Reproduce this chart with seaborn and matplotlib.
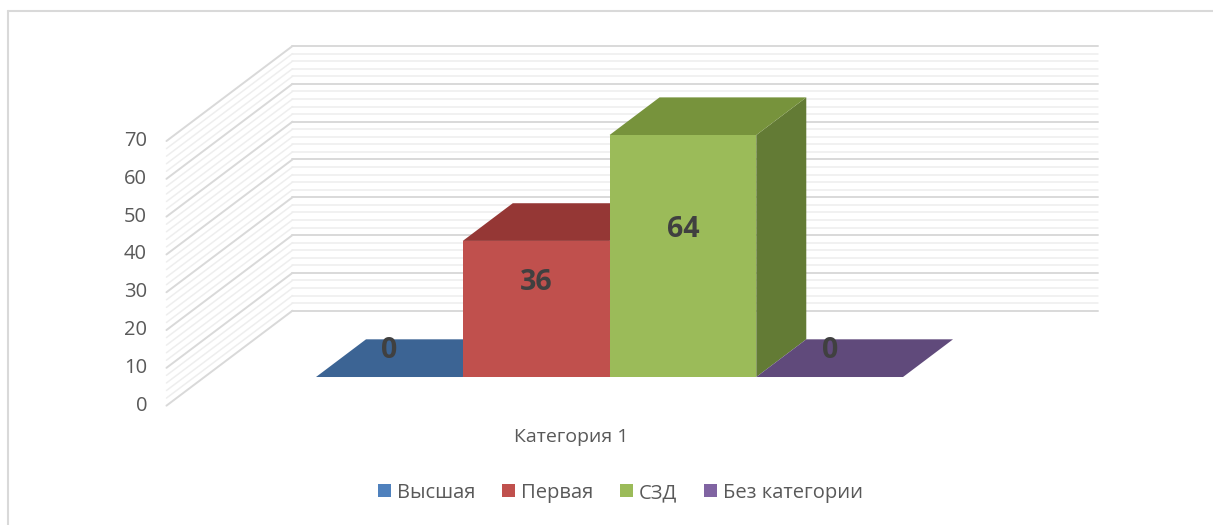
import matplotlib
matplotlib.use('Agg')
import matplotlib.pyplot as plt
from matplotlib.patches import Polygon
from matplotlib.lines import Line2D
import pandas as pd
import seaborn as sns

# --- data ---
category = ['Категория 1']
series = ['Высшая', 'Первая', 'СЗД', 'Без категории']
values = [0, 36, 64, 0]
front_colors = ['#4f81bd', '#c0504d', '#9bbb59', '#8064a2']
top_colors = ['#3c6494', '#953735', '#77933c', '#604a7b']
side_colors = ['#2f4f76', '#7a2c2a', '#637b35', '#4f3c66']
y_ticks = [0, 10, 20, 30, 40, 50, 60, 70]
y_minor_step = 2

sns.set_theme(style='white')
plt.rcParams['font.family'] = ['Open Sans', 'DejaVu Sans']

W, H = 1213, 525
fig = plt.figure(figsize=(W / 100, H / 100), dpi=100)
ax = fig.add_axes([150 / W, 1 - 415 / H, 960 / W, 375 / H])

df = pd.DataFrame({'cat': category * len(series), 'series': series, 'value': values})
sns.barplot(data=df, x='cat', y='value', hue='series', palette=front_colors,
            saturation=1, width=1, linewidth=0, errorbar=None, ax=ax, zorder=3)

ax.set_xlim(-0.7828, 0.8526)
ax.set_ylim(-10.05, 89.15)
ax.axis('off')

# oblique "3D" projection: depth moves up and to the right
DX, DV = 0.0852, 9.97      # shift per depth unit (one bar depth)
GAP, FLOOR = 0.76, 2.52    # bar front depth, wall depth
WALL_L, WALL_R = -0.69, 0.682


def shift(x, v, d):
    return x + (d - GAP) * DX, v + (d - GAP) * DV


# walls with gridlines
for v in range(0, max(y_ticks) + 1, y_minor_step):
    major = v % 10 == 0
    col = '#d9d9d9' if major else '#eeeeee'
    lw = 1.4 if major else 1.1
    bx0, by = shift(WALL_L, v, FLOOR)
    bx1, _ = shift(WALL_R, v, FLOOR)
    fx, fy = shift(WALL_L, v, 0)
    ax.plot([bx0, bx1], [by, by], color=col, lw=lw, zorder=1, clip_on=False)
    ax.plot([fx, bx0], [fy, by], color=col, lw=lw, zorder=1, clip_on=False)

for t in y_ticks:
    x, y = shift(WALL_L, t, 0)
    ax.annotate(str(t), (x, y), xytext=(-14, 0), textcoords='offset points',
                ha='right', va='center', fontsize=14.5, color='#595959',
                annotation_clip=False)

# top and side faces of the bars, plus labels
for i, cont in enumerate(ax.containers):
    for p in cont:
        x0, w, h = p.get_x(), p.get_width(), p.get_height()
        top = [(x0, h), (x0 + w, h), (x0 + w + DX, h + DV), (x0 + DX, h + DV)]
        side = [(x0 + w, 0), (x0 + w + DX, DV), (x0 + w + DX, h + DV), (x0 + w, h)]
        ax.add_patch(Polygon(side, closed=True, facecolor=side_colors[i],
                             edgecolor='none', zorder=2, clip_on=False))
        ax.add_patch(Polygon(top, closed=True, facecolor=top_colors[i],
                             edgecolor='none', zorder=2, clip_on=False))
        ax.text(x0 + w / 2, h / 2 + 0.7 * DV, f'{h:.0f}', ha='center', va='center',
                fontsize=20.5, fontweight='bold', color='#404040', zorder=5)

cx, cy = shift(0, 0, 0)
ax.annotate(category[0], (cx, cy), xytext=(0, -22.5), textcoords='offset points',
            ha='center', va='center', fontsize=14, color='#595959',
            annotation_clip=False)

leg = ax.get_legend()
handles = leg.legend_handles
labels = [t.get_text() for t in leg.get_texts()]
leg.remove()
fig.legend(handles, labels, loc='center', bbox_to_anchor=(620.5 / W, 1 - 493 / H),
           ncol=4, frameon=False, fontsize=14.5, handlelength=0.62, handleheight=0.62,
           handletextpad=0.3, columnspacing=1.35, labelcolor='#595959')

# chart border
fig.add_artist(Line2D([7.5 / W, 1], [1 - 11 / H, 1 - 11 / H], color='#d9d9d9', lw=1.5))
fig.add_artist(Line2D([7.5 / W, 7.5 / W], [0, 1 - 11 / H], color='#d9d9d9', lw=1.5))

fig.savefig('out.png', dpi=100)
